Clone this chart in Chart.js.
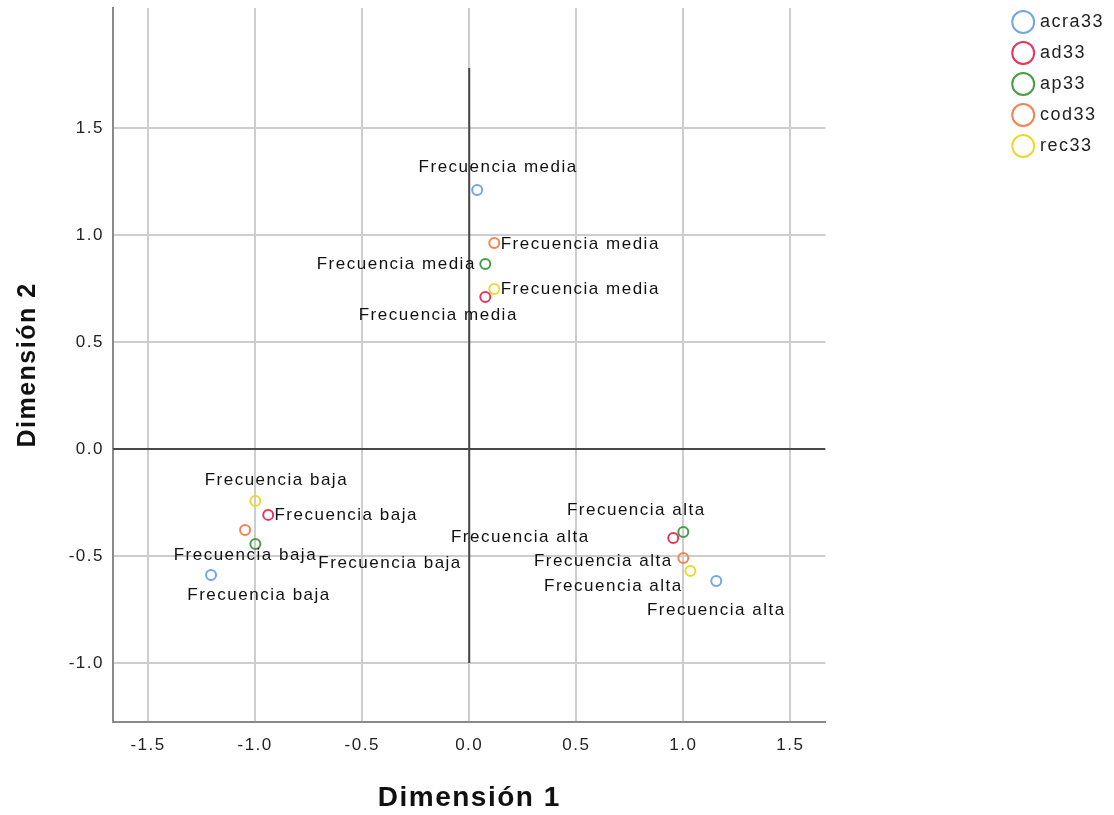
<!DOCTYPE html>
<html lang="es">
<head>
<meta charset="utf-8">
<title>Dimensión 1 / Dimensión 2</title>
<script src="https://cdn.jsdelivr.net/npm/chart.js@4"></script>
<style>
  html, body { margin: 0; padding: 0; background: #fff; }
  #wrap { width: 1114px; height: 815px; position: relative; }
</style>
</head>
<body>
<div id="wrap"><canvas id="chart"></canvas></div>
<script>
// ============================================
// Data
// ============================================

const categories = ['Frecuencia baja', 'Frecuencia media', 'Frecuencia alta'];
const seriesNames = ['acra33', 'ad33', 'ap33', 'cod33', 'rec33'];

// Dimensión 1 / Dimensión 2 per series, in the order of categories
const acra33Dim1 = [-1.206, 0.037, 1.154];
const acra33Dim2 = [-0.589, 1.210, -0.617];
const ad33Dim1 = [-0.939, 0.075, 0.953];
const ad33Dim2 = [-0.308, 0.710, -0.416];
const ap33Dim1 = [-0.999, 0.075, 1.000];
const ap33Dim2 = [-0.444, 0.864, -0.388];
const cod33Dim1 = [-1.047, 0.117, 1.000];
const cod33Dim2 = [-0.379, 0.963, -0.509];
const rec33Dim1 = [-0.999, 0.117, 1.033];
const rec33Dim2 = [-0.243, 0.748, -0.570];

const xTicks = [-1.5, -1.0, -0.5, 0.0, 0.5, 1.0, 1.5];
const yTicks = [-1.0, -0.5, 0.0, 0.5, 1.0, 1.5];
const xRange = [-1.664, 1.664];
const yRange = [-1.276, 2.061];

// reference lines at the origin
const refVerticalY = [-1.0, 1.78];

// ============================================
// Styling
// ============================================

const seriesColors = ['#6fa6ee', '#e8355c', '#45a045', '#f5834f', '#ecd930'];

// label offsets in px from each point, same order as categories
const labelOffsets = [
  [[48, 20], [21, -23], [0, 29]],
  [[78, 0], [-47, 18], [-153, -1]],
  [[-10, 11], [-89, 0], [-47, -22]],
  [[145, 33], [86, 1], [-80, 3]],
  [[21, -21], [86, 0], [-77, 15]]
];

const FONT = '"Liberation Sans", Arial, sans-serif';

// ============================================
// Helpers
// ============================================

function toPoints(xs, ys) {
  return xs.map((x, i) => ({ x, y: ys[i] }));
}

const seriesData = [
  toPoints(acra33Dim1, acra33Dim2),
  toPoints(ad33Dim1, ad33Dim2),
  toPoints(ap33Dim1, ap33Dim2),
  toPoints(cod33Dim1, cod33Dim2),
  toPoints(rec33Dim1, rec33Dim2)
];

// SPSS output is a bit wider than plain Arial, so spread letters out
const letterSpacingPlugin = {
  id: 'letterSpacing',
  beforeLayout(chart) { chart.ctx.letterSpacing = '1.5px'; },
  beforeDraw(chart) { chart.ctx.letterSpacing = '1.5px'; }
};

const pointLabelsPlugin = {
  id: 'pointLabels',
  afterDatasetsDraw(chart) {
    const ctx = chart.ctx;
    ctx.save();
    ctx.font = '17px ' + FONT;
    ctx.fillStyle = '#111';
    ctx.textAlign = 'center';
    ctx.textBaseline = 'middle';
    seriesNames.forEach((name, s) => {
      const meta = chart.getDatasetMeta(s);
      meta.data.forEach((pt, i) => {
        const [dx, dy] = labelOffsets[s][i];
        ctx.fillText(categories[i], pt.x + dx, pt.y + dy);
      });
    });
    ctx.restore();
  }
};

// ============================================
// Chart
// ============================================

const datasets = seriesNames.map((name, s) => ({
  label: name,
  data: seriesData[s],
  borderColor: seriesColors[s],
  backgroundColor: 'rgba(255,255,255,0)',
  pointStyle: 'circle',
  pointRadius: 5,
  pointHoverRadius: 5,
  borderWidth: 2,
  order: 0
}));

datasets.push({
  type: 'line',
  label: 'ref-h',
  data: [{ x: xRange[0], y: 0 }, { x: xRange[1], y: 0 }],
  borderColor: '#474747',
  borderWidth: 2,
  pointRadius: 0,
  showLine: true,
  order: 1
});
datasets.push({
  type: 'line',
  label: 'ref-v',
  data: [{ x: 0, y: refVerticalY[0] }, { x: 0, y: refVerticalY[1] }],
  borderColor: '#474747',
  borderWidth: 2,
  pointRadius: 0,
  showLine: true,
  order: 1
});

new Chart(document.getElementById('chart'), {
  type: 'scatter',
  data: { datasets },
  options: {
    responsive: true,
    maintainAspectRatio: false,
    animation: false,
    layout: { padding: 0 },
    plugins: {
      tooltip: { enabled: false },
      legend: {
        display: true,
        position: 'right',
        align: 'start',
        labels: {
          usePointStyle: true,
          boxWidth: 15.5,
          boxHeight: 15.5,
          padding: 13,
          color: '#222',
          font: { family: FONT, size: 18 },
          filter: item => seriesNames.includes(item.text)
        }
      }
    },
    scales: {
      x: {
        type: 'linear',
        position: 'bottom',
        min: xRange[0],
        max: xRange[1],
        afterBuildTicks: s => { s.ticks = xTicks.map(v => ({ value: v })); },
        afterFit: s => { s.height = 93; s.paddingLeft = 0; s.paddingRight = 0; },
        ticks: {
          padding: 13,
          color: '#222',
          font: { family: FONT, size: 17 },
          callback: v => v.toFixed(1)
        },
        grid: { color: '#cdcdcd', lineWidth: 2, drawTicks: false },
        border: { color: '#8a8a8a', width: 2 },
        title: {
          display: true,
          text: 'Dimensión 1',
          color: '#111',
          padding: { top: 0, bottom: 0 },
          font: { family: FONT, size: 28, weight: 'bold' }
        }
      },
      y: {
        type: 'linear',
        position: 'left',
        min: yRange[0],
        max: yRange[1],
        afterBuildTicks: s => { s.ticks = yTicks.map(v => ({ value: v })); },
        afterFit: s => { s.width = 113; s.paddingTop = 8; s.paddingBottom = 0; },
        ticks: {
          padding: 9,
          color: '#222',
          font: { family: FONT, size: 17 },
          callback: v => v.toFixed(1)
        },
        grid: { color: '#cdcdcd', lineWidth: 2, drawTicks: false },
        border: { color: '#8a8a8a', width: 2 },
        title: {
          display: true,
          text: 'Dimensión 2',
          color: '#111',
          padding: { top: 13, bottom: 0 },
          font: { family: FONT, size: 25, weight: 'bold' }
        }
      },
      // spacer between the plot and the legend, like the original
      rightGap: {
        type: 'linear',
        position: 'right',
        display: true,
        grid: { display: false },
        border: { display: false },
        ticks: { display: false },
        afterFit: s => { s.width = 177; s.paddingTop = 0; s.paddingBottom = 0; }
      }
    }
  },
  plugins: [letterSpacingPlugin, pointLabelsPlugin]
});
</script>
</body>
</html>
